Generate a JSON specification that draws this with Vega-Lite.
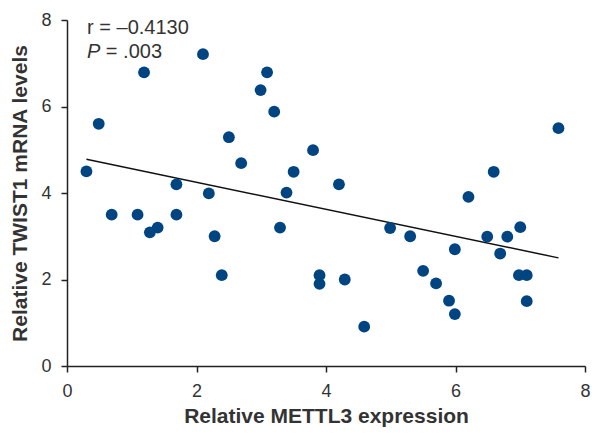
{
  "$schema": "https://vega.github.io/schema/vega-lite/v6.json",
  "width": 518,
  "height": 346,
  "autosize": "none",
  "padding": {"left": 67, "top": 20, "right": 7, "bottom": 68},
  "background": "white",
  "config": {
    "view": {"stroke": null},
    "font": "Liberation Sans",
    "axis": {
      "grid": false,
      "domainColor": "#222222",
      "domainWidth": 1.5,
      "tickColor": "#222222",
      "tickWidth": 1.5,
      "tickSize": 6,
      "labelFont": "Liberation Sans",
      "labelFontSize": 18,
      "labelColor": "#333333",
      "labelFlush": false,
      "format": "d",
      "titleFont": "Liberation Sans",
      "titleFontSize": 21,
      "titleFontWeight": "bold",
      "titleColor": "#333333"
    }
  },
  "datasets": {
    "points": [
      {"x": 0.30, "y": 4.50}, {"x": 0.49, "y": 5.60}, {"x": 0.69, "y": 3.50}, {"x": 1.09, "y": 3.50},
      {"x": 1.19, "y": 6.79}, {"x": 1.28, "y": 3.09}, {"x": 1.40, "y": 3.20}, {"x": 1.69, "y": 4.20},
      {"x": 1.69, "y": 3.50}, {"x": 2.10, "y": 7.21}, {"x": 2.19, "y": 3.99}, {"x": 2.28, "y": 3.00},
      {"x": 2.39, "y": 2.10}, {"x": 2.50, "y": 5.29}, {"x": 2.69, "y": 4.69}, {"x": 2.99, "y": 6.38},
      {"x": 3.09, "y": 6.79}, {"x": 3.20, "y": 5.88}, {"x": 3.29, "y": 3.20}, {"x": 3.39, "y": 4.01},
      {"x": 3.50, "y": 4.49}, {"x": 3.80, "y": 4.99}, {"x": 3.90, "y": 2.10}, {"x": 3.90, "y": 1.90},
      {"x": 4.20, "y": 4.20}, {"x": 4.29, "y": 2.00}, {"x": 4.59, "y": 0.91}, {"x": 4.99, "y": 3.19},
      {"x": 5.30, "y": 3.00}, {"x": 5.50, "y": 2.20}, {"x": 5.70, "y": 1.91}, {"x": 5.90, "y": 1.51},
      {"x": 5.99, "y": 2.70}, {"x": 5.99, "y": 1.20}, {"x": 6.20, "y": 3.91}, {"x": 6.49, "y": 2.99},
      {"x": 6.59, "y": 4.49}, {"x": 6.69, "y": 2.60}, {"x": 6.80, "y": 2.99}, {"x": 7.00, "y": 3.21},
      {"x": 6.98, "y": 2.10}, {"x": 7.10, "y": 2.10}, {"x": 7.10, "y": 1.50}, {"x": 7.59, "y": 5.50}
    ],
    "fit": [{"x": 0.30, "y": 4.78}, {"x": 7.59, "y": 2.50}],
    "labels": [
      {"x": 0.31, "y": 7.81, "label": "r = –0.4130"},
      {"x": 0.60, "y": 7.26, "label": "= .003"}
    ],
    "italic": [
      {"x": 0.31, "y": 7.26, "label": "P"}
    ]
  },
  "layer": [
    {
      "data": {"name": "fit"},
      "mark": {"type": "line", "color": "#111111", "strokeWidth": 1.5},
      "encoding": {
        "x": {"field": "x", "type": "quantitative", "scale": {"domain": [0, 8], "nice": false},
              "axis": {"values": [0, 2, 4, 6, 8], "title": "Relative METTL3 expression", "titlePadding": 5, "labelPadding": 10}},
        "y": {"field": "y", "type": "quantitative", "scale": {"domain": [0, 8], "nice": false},
              "axis": {"values": [0, 2, 4, 6, 8], "title": "Relative TWIST1 mRNA levels", "titlePadding": 10, "labelPadding": 10}}
      }
    },
    {
      "data": {"name": "points"},
      "mark": {"type": "circle", "color": "#004582", "opacity": 1, "size": 140},
      "encoding": {
        "x": {"field": "x", "type": "quantitative"},
        "y": {"field": "y", "type": "quantitative"}
      }
    },
    {
      "data": {"name": "labels"},
      "mark": {"type": "text", "align": "left", "baseline": "middle", "fontSize": 20, "color": "#333333", "font": "Liberation Sans"},
      "encoding": {
        "x": {"field": "x", "type": "quantitative"},
        "y": {"field": "y", "type": "quantitative"},
        "text": {"field": "label"}
      }
    },
    {
      "data": {"name": "italic"},
      "mark": {"type": "text", "align": "left", "baseline": "middle", "fontSize": 20, "fontStyle": "italic", "color": "#333333", "font": "Liberation Sans"},
      "encoding": {
        "x": {"field": "x", "type": "quantitative"},
        "y": {"field": "y", "type": "quantitative"},
        "text": {"field": "label"}
      }
    }
  ]
}
